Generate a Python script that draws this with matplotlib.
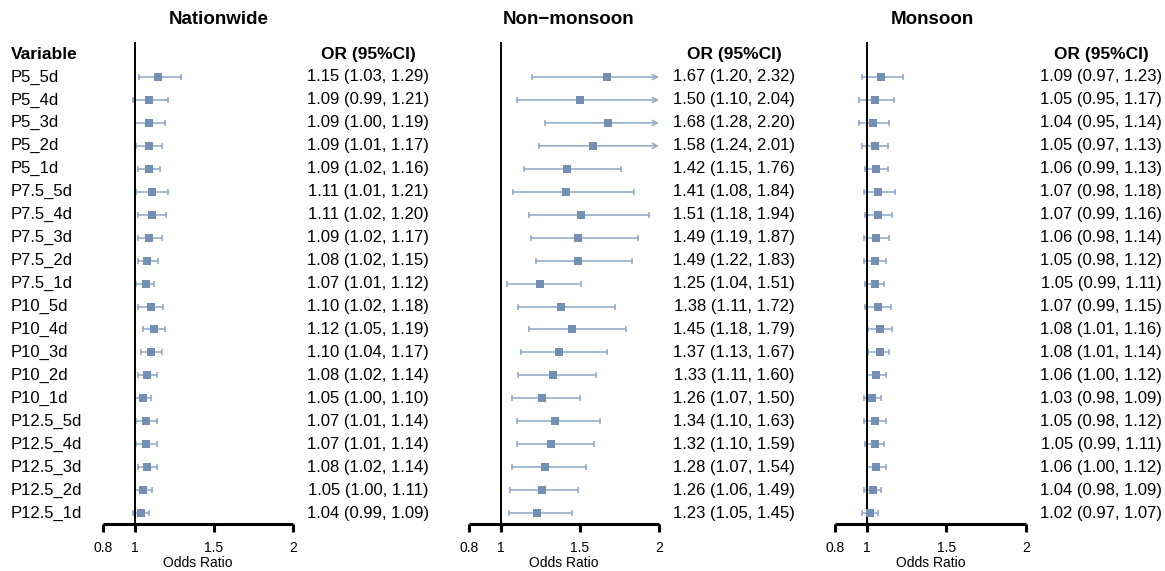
import matplotlib
matplotlib.use("Agg")
import matplotlib.pyplot as plt
from matplotlib.transforms import blended_transform_factory

plt.rcParams['font.family'] = ['Liberation Sans', 'DejaVu Sans']

variables = ["P5_5d", "P5_4d", "P5_3d", "P5_2d", "P5_1d",
             "P7.5_5d", "P7.5_4d", "P7.5_3d", "P7.5_2d", "P7.5_1d",
             "P10_5d", "P10_4d", "P10_3d", "P10_2d", "P10_1d",
             "P12.5_5d", "P12.5_4d", "P12.5_3d", "P12.5_2d", "P12.5_1d"]

nat_or = [1.15, 1.09, 1.09, 1.09, 1.09, 1.11, 1.11, 1.09, 1.08, 1.07,
          1.10, 1.12, 1.10, 1.08, 1.05, 1.07, 1.07, 1.08, 1.05, 1.04]
nat_lo = [1.03, 0.99, 1.00, 1.01, 1.02, 1.01, 1.02, 1.02, 1.02, 1.01,
          1.02, 1.05, 1.04, 1.02, 1.00, 1.01, 1.01, 1.02, 1.00, 0.99]
nat_hi = [1.29, 1.21, 1.19, 1.17, 1.16, 1.21, 1.20, 1.17, 1.15, 1.12,
          1.18, 1.19, 1.17, 1.14, 1.10, 1.14, 1.14, 1.14, 1.11, 1.09]

non_or = [1.67, 1.50, 1.68, 1.58, 1.42, 1.41, 1.51, 1.49, 1.49, 1.25,
          1.38, 1.45, 1.37, 1.33, 1.26, 1.34, 1.32, 1.28, 1.26, 1.23]
non_lo = [1.20, 1.10, 1.28, 1.24, 1.15, 1.08, 1.18, 1.19, 1.22, 1.04,
          1.11, 1.18, 1.13, 1.11, 1.07, 1.10, 1.10, 1.07, 1.06, 1.05]
non_hi = [2.32, 2.04, 2.20, 2.01, 1.76, 1.84, 1.94, 1.87, 1.83, 1.51,
          1.72, 1.79, 1.67, 1.60, 1.50, 1.63, 1.59, 1.54, 1.49, 1.45]

mon_or = [1.09, 1.05, 1.04, 1.05, 1.06, 1.07, 1.07, 1.06, 1.05, 1.05,
          1.07, 1.08, 1.08, 1.06, 1.03, 1.05, 1.05, 1.06, 1.04, 1.02]
mon_lo = [0.97, 0.95, 0.95, 0.97, 0.99, 0.98, 0.99, 0.98, 0.98, 0.99,
          0.99, 1.01, 1.01, 1.00, 0.98, 0.98, 0.99, 1.00, 0.98, 0.97]
mon_hi = [1.23, 1.17, 1.14, 1.13, 1.13, 1.18, 1.16, 1.14, 1.12, 1.11,
          1.15, 1.16, 1.14, 1.12, 1.09, 1.12, 1.11, 1.12, 1.09, 1.07]

titles = ["Nationwide", "Non\u2212monsoon", "Monsoon"]
xticks = [0.8, 1, 1.5, 2]
xtick_labels = ["0.8", "1", "1.5", "2"]
xlim = (0.8, 2.0)

W, H = 1165, 571
fig = plt.figure(figsize=(W / 100, H / 100), dpi=100)

box_col = "#7390B4"
ci_col = "#8FA7C6"

# panel layout (pixels)
ax_left_px = [103, 469, 835]
ax_right_px = [293, 659, 1026]
title_cx = [219, 569, 932]
col_cx = [368, 734, 1101]
top_px, bot_px = 42, 524
row0_px, row_step = 77, 22.95

y_top = (top_px - row0_px) / row_step
y_bot = (bot_px - row0_px) / row_step

panels = [(nat_or, nat_lo, nat_hi), (non_or, non_lo, non_hi), (mon_or, mon_lo, mon_hi)]

for p, (ors, los, his) in enumerate(panels):
    l = ax_left_px[p] / W
    w = (ax_right_px[p] - ax_left_px[p]) / W
    b = (H - bot_px) / H
    h = (bot_px - top_px) / H
    ax = fig.add_axes([l, b, w, h])
    ax.set_xlim(*xlim)
    ax.set_ylim(y_bot, y_top)
    for s in ["top", "right", "left"]:
        ax.spines[s].set_visible(False)
    ax.spines["bottom"].set_linewidth(2.2)
    ax.spines["bottom"].set_capstyle("butt")
    ax.set_yticks([])
    ax.set_xticks(xticks)
    ax.set_xticklabels(xtick_labels, fontsize=10)
    ax.tick_params(axis="x", direction="out", length=5.5, width=2.2, pad=6.5)
    ax.set_xlabel("Odds Ratio", fontsize=10, labelpad=1)
    ax.patch.set_alpha(0)

    ax.axvline(1, color="black", lw=1.4, zorder=4)

    ys = list(range(len(ors)))
    for y, o, lo, hi in zip(ys, ors, los, his):
        if hi > xlim[1]:
            ax.annotate("", xy=(xlim[1], y), xytext=(lo, y),
                        arrowprops=dict(arrowstyle="->", color=ci_col, lw=1.1,
                                        shrinkA=0, shrinkB=0, mutation_scale=9),
                        zorder=3)
            ax.plot([lo], [y], marker="|", markersize=5, mew=1.1, color=ci_col, zorder=3)
        else:
            ax.plot([lo, hi], [y, y], color=ci_col, lw=1.1, zorder=3)
            ax.plot([lo, hi], [y, y], marker="|", linestyle="none", markersize=5,
                    mew=1.1, color=ci_col, zorder=3)
    ax.plot(ors, ys, "s", markersize=6.3, color=box_col, zorder=5, mew=0)

    trans = blended_transform_factory(fig.transFigure, ax.transData)
    fig.text(title_cx[p] / W, 1 - 19 / H, titles[p], ha="center", va="center",
             fontsize=13.5, fontweight="bold")
    ax.text(col_cx[p] / W, -1, "OR (95%CI)", transform=trans, ha="center", va="center",
            fontsize=12.5, fontweight="bold")
    for y, o, lo, hi in zip(ys, ors, los, his):
        ax.text(col_cx[p] / W, y, f"{o:.2f} ({lo:.2f}, {hi:.2f})", transform=trans,
                ha="center", va="center", fontsize=12)
    if p == 0:
        ax.text(11 / W, -1, "Variable", transform=trans, ha="left", va="center",
                fontsize=12.5, fontweight="bold")
        for y, v in zip(ys, variables):
            ax.text(11 / W, y, v, transform=trans, ha="left", va="center", fontsize=12)

fig.savefig("out.png", dpi=100)
